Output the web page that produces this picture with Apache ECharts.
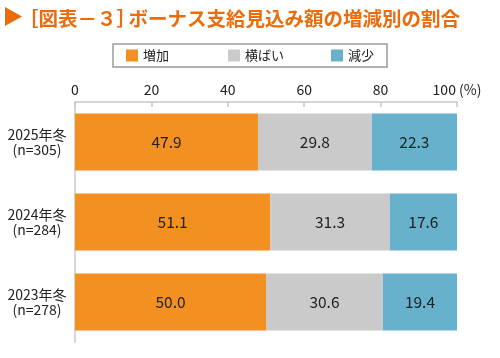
<!DOCTYPE html>
<html><head><meta charset="utf-8">
<script src="https://cdn.jsdelivr.net/npm/echarts@6/dist/echarts.min.js"></script>
<style>html,body{margin:0;padding:0;background:#fff}#c{width:500px;height:358px}</style>
</head><body><div id="c"></div>
<script>
const titleOpen = '［';
const titleCode = '図表－３';
const titleClose = '］';
const titleMain = 'ボーナス支給見込み額の増減別の割合';
const categories = ['2025年冬\n(n=305)', '2024年冬\n(n=284)', '2023年冬\n(n=278)'];
const seriesNames = ['増加', '横ばい', '減少'];
const increase = [47.9, 51.1, 50.0];
const flat = [29.8, 31.3, 30.6];
const decrease = [22.3, 17.6, 19.4];
const xTicks = [0, 20, 40, 60, 80, 100];
const colors = ['#F29122', '#C9CAC9', '#67B1CC'];
const FONT = '"Noto Sans CJK JP", "Noto Sans", sans-serif';

const chart = echarts.init(document.getElementById('c'), null, {renderer: 'canvas'});
const values = [increase, flat, decrease];
const titleColor = '#EA6C0C';
const legendLefts = [126, 228, 331];
const option = {
  animation: false,
  textStyle: {fontFamily: FONT},
  title: {
    text: '{s|' + titleOpen + titleCode + '}{c|' + titleClose + '}{s|' + titleMain + '}',
    left: 14, top: 4,
    textStyle: {
      rich: {
        c: {color: titleColor, fontSize: 19.5, fontWeight: 'bold', fontFamily: FONT, width: 12, align: 'left'},
        s: {color: titleColor, fontSize: 19.5, fontWeight: 'bold', fontFamily: FONT}
      }
    }
  },
  graphic: [
    {type: 'polygon', shape: {points: [[5, 7], [22, 16.5], [5, 26]]}, style: {fill: titleColor}, silent: true},
    {type: 'rect', shape: {x: 113, y: 44, width: 274, height: 23},
      style: {fill: 'none', stroke: '#9a9a9a', lineWidth: 1.5}, silent: true}
  ],
  legend: seriesNames.map((name, i) => ({
    left: legendLefts[i], top: 49, padding: 0,
    itemWidth: 12, itemHeight: 12, itemGap: 0, icon: 'rect',
    textStyle: {fontSize: 13, color: '#222', fontFamily: FONT},
    data: [name]
  })),
  grid: {left: 75, right: 43, top: 102, height: 240, containLabel: false},
  xAxis: {
    type: 'value', position: 'top', min: 0, max: 100, interval: 20,
    axisLine: {show: true, lineStyle: {color: '#c8c8c8', width: 1.5}},
    axisTick: {show: true, inside: true, length: 5, lineStyle: {color: '#c8c8c8', width: 1.5}},
    splitLine: {show: false},
    axisLabel: {
      fontSize: 14, color: '#222', margin: 5, fontFamily: FONT,
      formatter: v => xTicks.includes(v) ? (v === 100 ? v + ' (%)' : String(v)) : ''
    }
  },
  yAxis: {
    type: 'category', inverse: true, data: categories,
    axisLine: {show: true, lineStyle: {color: '#c8c8c8', width: 1.5}},
    axisTick: {show: false},
    axisLabel: {fontSize: 14, color: '#222', align: 'center', margin: 38, lineHeight: 14.5,
      padding: [6, 0, 0, 0], fontFamily: FONT}
  },
  series: seriesNames.map((name, i) => ({
    name, type: 'bar', stack: 'total', barWidth: 57,
    itemStyle: {color: colors[i]},
    label: {show: true, position: 'inside', fontSize: 15.5, color: '#222', fontFamily: FONT,
      formatter: p => Number(p.value).toFixed(1)},
    data: values[i]
  }))
};
chart.setOption(option);
</script></body></html>
